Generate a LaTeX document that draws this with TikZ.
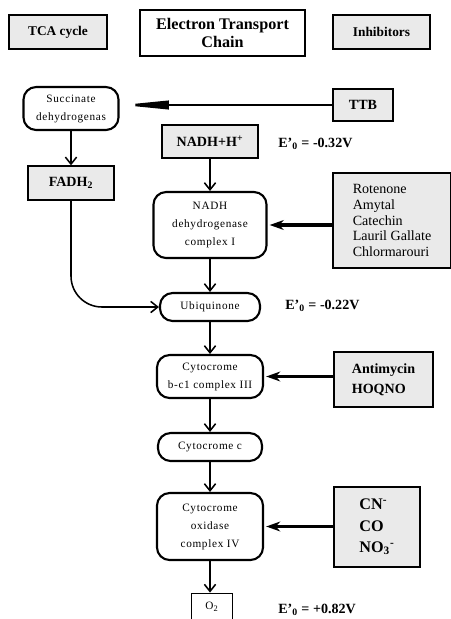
\documentclass[tikz,border=0pt]{standalone}
\usepackage{fontspec}
\setmainfont{Liberation Serif}
\newfontfamily\roundfont[LetterSpace=6]{Liberation Serif}
\usepackage{tikz}
\usetikzlibrary{arrows.meta}
\definecolor{boxgray}{RGB}{234,234,234}

\begin{document}
\begin{tikzpicture}
[x=0.025cm,y=-0.025cm]
\tikzstyle{gray box}=[draw,fill=boxgray,line width=0.9pt,inner sep=0,align=center,font=\bfseries\fontsize{9.5}{11}\selectfont]
\tikzstyle{round box}=[draw,rounded corners=9pt,line width=1.5pt,inner sep=0,align=center,font=\roundfont\fontsize{8}{12.8}\selectfont]
\tikzstyle{flow}=[line width=1.1pt,-{Straight Barb[length=5pt,width=8pt]}]
\tikzstyle{block}=[line width=2.4pt,shorten >=1.5pt,-{Stealth[length=10pt,width=7pt]}]
\tikzstyle{potential}=[anchor=west,inner sep=0,font=\bfseries\fontsize{10}{12}\selectfont]

\path[use as bounding box,clip](0,0) rectangle (451,619);

\node(tca)[gray box,minimum width=2.45cm,minimum height=0.85cm]at(58,32){TCA cycle};
\node(etc)[draw,line width=1.2pt,inner sep=0,align=center,minimum width=4.125cm,minimum height=1.15cm,
  font=\bfseries\fontsize{11.5}{12.5}\selectfont]at(222.5,33){Electron Transport\\Chain};
\node(inh)[gray box,minimum width=2.425cm,minimum height=0.85cm]at(381.5,32){Inhibitors};

\node(sdh)[round box,minimum width=2.375cm,minimum height=1.075cm]at(71,108.5){Succinate\\dehydrogenas};
\node(ttb)[gray box,minimum width=1.5cm,minimum height=0.8cm,font=\bfseries\fontsize{10}{12}\selectfont]at(363,105){TTB};
\node(nadh)[gray box,minimum width=2.4cm,minimum height=0.825cm,font=\bfseries\fontsize{10}{12}\selectfont]at(210,141.5){NADH+H\textsuperscript{+}};
\node(e1)[potential]at(278,144){E'\textsubscript{0} = -0.32V};
\node(fadh)[gray box,minimum width=2.15cm,minimum height=0.85cm,font=\bfseries\fontsize{10}{12}\selectfont]at(71,183){FADH\textsubscript{2}};

\node(cx1)[round box,minimum width=2.825cm,minimum height=1.65cm]at(210,225){NADH\\dehydrogenase\\complex I};
\node(rot)[gray box,minimum width=2.95cm,minimum height=2.375cm,align=left,
  font=\fontsize{10}{11.3}\selectfont]at(392,220.5){Rotenone\\Amytal\\Catechin\\Lauril Gallate\\Chlormarouri};

\node(ubq)[round box,minimum width=2.5cm,minimum height=0.7cm]at(210,307){Ubiquinone};
\node(e2)[potential]at(285,306){E'\textsubscript{0} = -0.22V};

\node(cx3)[round box,minimum width=2.65cm,minimum height=1.075cm]at(210,376.5){Cytocrome\\b-c1 complex III};
\node(ant)[gray box,minimum width=2.475cm,minimum height=1.375cm,align=left,
  font=\bfseries\fontsize{10}{14}\selectfont]at(383.5,379.5){Antimycin\\HOQNO};

\node(cytc)[round box,minimum width=2.6cm,minimum height=0.7cm]at(210,447){Cytocrome c};

\node(cx4)[round box,minimum width=2.65cm,minimum height=1.675cm]at(210,526.5){Cytocrome\\oxidase\\complex IV};
\node(cn)[gray box,minimum width=2.15cm,minimum height=2cm,align=left,
  font=\bfseries\fontsize{11.5}{15}\selectfont]at(377,527){CN\textsuperscript{-}\\CO\\NO\textsubscript{3}\textsuperscript{-}};

\node(o2)[draw,line width=0.6pt,inner sep=0,minimum width=1.025cm,minimum height=0.7cm,
  font=\roundfont\fontsize{8}{10}\selectfont]at(212,607){O\textsubscript{2}};
\node(e3)[potential]at(278,610){E'\textsubscript{0} = +0.82V};

\draw[flow](sdh)--(fadh);
\draw[flow](nadh)--(cx1);
\draw[flow](cx1)--(ubq);
\draw[flow](ubq)--(cx3);
\draw[flow](cx3)--(cytc);
\draw[flow](cytc)--(cx4);
\draw[flow](cx4)--(o2.north-|cx4.south);
\draw[flow,rounded corners=22pt](fadh.south)|-(ubq.west);

\draw[line width=1.8pt,shorten >=1pt,-{Triangle[length=1.2cm,width=6pt]}](ttb.west)--(ttb.west-|sdh.east);
\draw[block](rot.west|-cx1)--(cx1.east);
\draw[block](ant.west|-cx3)--(cx3.east);
\draw[block](cn.west|-cx4)--(cx4.east);
\end{tikzpicture}
\end{document}
